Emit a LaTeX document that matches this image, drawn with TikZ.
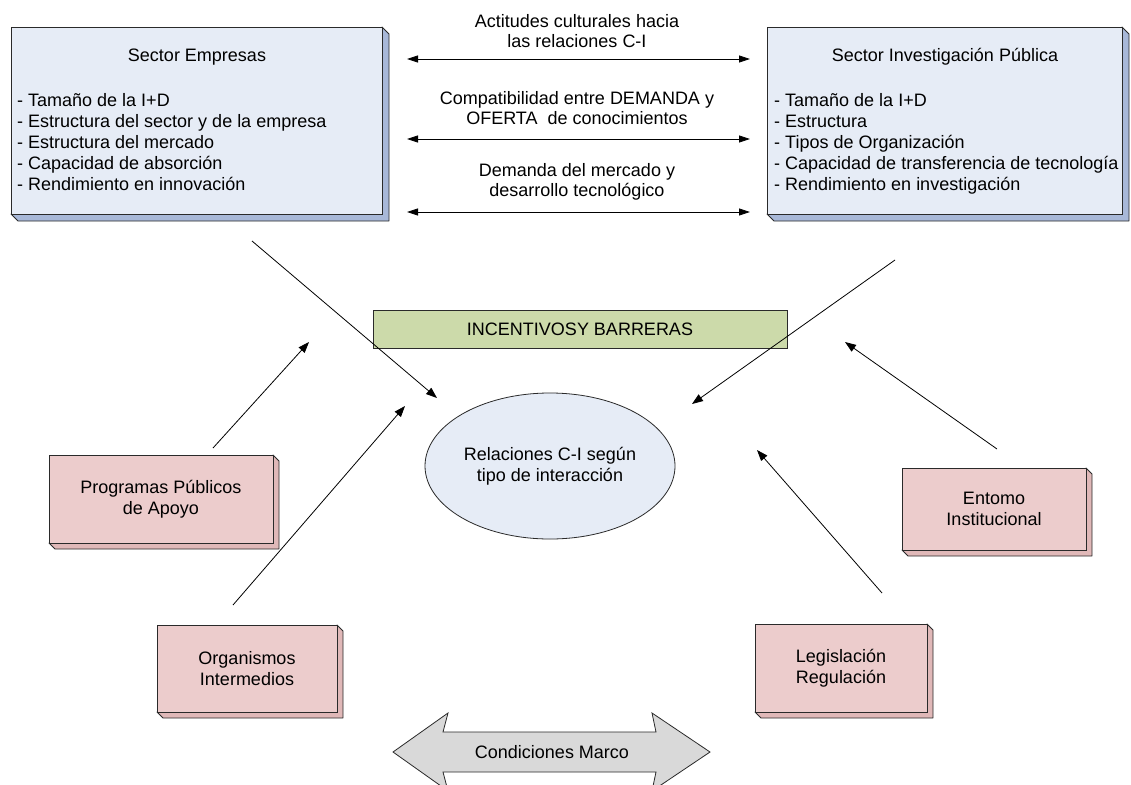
\documentclass[tikz,border=0pt]{standalone}
\usepackage{fontspec}
\setmainfont{Liberation Sans}
\usetikzlibrary{arrows.meta,shapes.geometric}
\definecolor{boxblue}{HTML}{E6ECF6}
\definecolor{sideblue}{HTML}{A8B8D8}
\definecolor{boxpink}{HTML}{ECCCCC}
\definecolor{sidepink}{HTML}{E0B8B8}
\definecolor{boxgreen}{HTML}{CCDAAA}
\definecolor{arrowgray}{HTML}{D9D9D9}
\definecolor{edgecol}{HTML}{2A2A2A}
\newcommand\tdbox[8]{%
  \filldraw[fill=#8,draw=edgecol,line width=0.8pt,line join=round] (#4,#3) -- (#4+#6,#3+#6) -- (#4+#6,#5+#6) -- (#2+#6,#5+#6) -- (#2,#5) -- (#4,#5) -- cycle;
  \node[draw=edgecol,fill=#7,line width=0.8pt,inner sep=0pt,outer sep=0pt,minimum width=#4-#2,minimum height=#5-#3,anchor=north west] (#1) at (#2,#3) {};
}
\begin{document}
\begin{tikzpicture}[x=1pt,y=-1pt,
  font=\fontsize{18}{20.5}\selectfont,
  txt/.style={inner sep=0pt,align=center},
  listline/.style={inner sep=0pt,anchor=base west},
  conn/.style={line width=0.8pt,-{Triangle[length=11pt,width=8pt]}},
  dconn/.style={line width=0.8pt,{Triangle[length=11pt,width=7pt]}-{Triangle[length=11pt,width=7pt]}}]
\useasboundingbox (0,0) rectangle (1131,784);
\fill[white] (0,0) rectangle (1131,784);

% top sector boxes
\tdbox{emp}{11}{27}{382}{214}{7}{boxblue}{sideblue}
\tdbox{inv}{767}{27}{1122}{214}{7}{boxblue}{sideblue}
\node[txt] (empt) at (197,57) {Sector Empresas};
\node[txt] (invt) at (945,57) {Sector Investigación Pública};
\foreach \t [count=\i] in {- Tamaño de la I+D,- Estructura del sector y de la empresa,- Estructura del mercado,- Capacidad de absorción,- Rendimiento en innovación}
  \node[listline] (el\i) at (17,106+21*\i-21) {\t};
\foreach \t [count=\i] in {- Tamaño de la I+D,- Estructura,- Tipos de Organización,- Capacidad de transferencia de tecnología,- Rendimiento en investigación}
  \node[listline] (il\i) at (774,106+21*\i-21) {\t};

% middle double arrows
\coordinate (d1l) at (407,59); \coordinate (d1r) at (750,59);
\coordinate (d2l) at (407,139); \coordinate (d2r) at (750,139);
\coordinate (d3l) at (407,212); \coordinate (d3r) at (750,212);
\draw[dconn] (d1l) -- (d1r);
\draw[dconn] (d2l) -- (d2r);
\draw[dconn] (d3l) -- (d3r);
\node[txt] (m1) at (577,31) {Actitudes culturales hacia\\las relaciones C-I};
\node[txt] (m2) at (577,108) {Compatibilidad entre DEMANDA y\\OFERTA\ \ de conocimientos};
\node[txt] (m3) at (577,182) {Demanda del mercado y\\desarrollo tecnológico};

% incentives bar
\node[draw=edgecol,fill=boxgreen,line width=0.8pt,inner sep=0pt,minimum width=414,minimum height=38] (inc) at (580,329) {INCENTIVOSY BARRERAS};

% central ellipse
\node[ellipse,draw=edgecol,fill=boxblue,line width=0.8pt,minimum width=250,minimum height=146,inner sep=0pt,align=center] (rel) at (550,466) {Relaciones C-I según\\tipo de interacción};

% pink boxes
\tdbox{prog}{49}{455}{273}{543}{6}{boxpink}{sidepink}
\node[txt] (progt) at (prog.center) {Programas Públicos\\de Apoyo};
\tdbox{ent}{902}{468}{1086}{550}{6}{boxpink}{sidepink}
\node[txt] (entt) at (ent.center) {Entomo\\Institucional};
\tdbox{org}{157}{625}{337}{712}{6}{boxpink}{sidepink}
\node[txt] (orgt) at (org.center) {Organismos\\Intermedios};
\tdbox{leg}{755}{624}{927}{712}{6}{boxpink}{sidepink}
\node[txt] (legt) at (leg.center) {Legislación\\Regulación};

% diagonal arrows
\coordinate (a1s) at (252,241); \coordinate (a1e) at (437,398);
\coordinate (a2s) at (895,260); \coordinate (a2e) at (692,404);
\coordinate (a3s) at (213,448); \coordinate (a3e) at (309,342);
\coordinate (a4s) at (233,605); \coordinate (a4e) at (405,406);
\coordinate (a5s) at (997,449); \coordinate (a5e) at (845,342);
\coordinate (a6s) at (882,593); \coordinate (a6e) at (757,450);
\draw[conn] (a1s) -- (a1e);
\draw[conn] (a2s) -- (a2e);
\draw[conn] (a3s) -- (a3e);
\draw[conn] (a4s) -- (a4e);
\draw[conn] (a5s) -- (a5e);
\draw[conn] (a6s) -- (a6e);

% framework double arrow
\filldraw[fill=arrowgray,draw=edgecol,line width=0.8pt,line join=miter]
  (393,752) -- (448,713) -- (443,732) -- (656,732) -- (652,713) -- (710,752)
  -- (652,791) -- (656,772) -- (443,772) -- (448,791) -- cycle;
\node[txt] (marco) at (552,752) {Condiciones Marco};
\end{tikzpicture}
\end{document}
